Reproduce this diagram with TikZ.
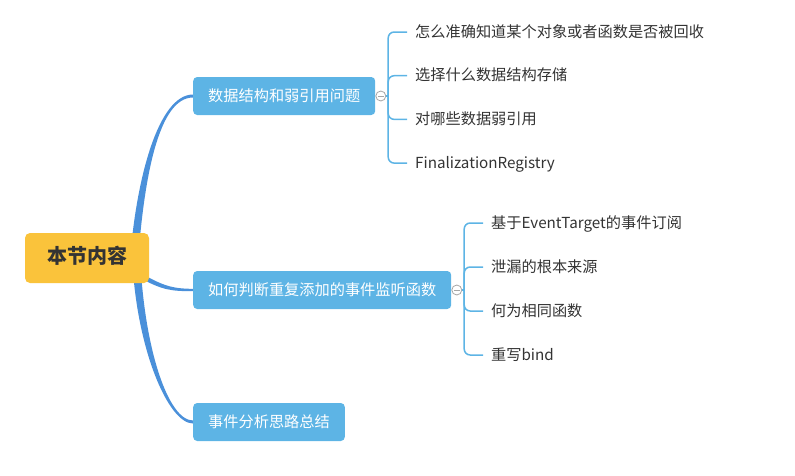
\documentclass[tikz,border=0pt]{standalone}
\usepackage{fontspec}
\setmainfont{Noto Sans CJK SC}
\usetikzlibrary{positioning, backgrounds}
\definecolor{rootyellow}{HTML}{FAC33B}
\definecolor{branchblue}{HTML}{5DB4E5}
\definecolor{trunkblue}{HTML}{4A90DA}
\definecolor{textgray}{HTML}{333333}

\begin{document}
\begin{tikzpicture}[
    x=1pt, y=-1pt,
    root/.style={rectangle, rounded corners=5pt, fill=rootyellow, text=textgray, minimum width=124pt, minimum height=50pt, font=\fontsize{20pt}{24pt}\selectfont\bfseries, text height=1.1em, text depth=0.1em},
    branch/.style={rectangle, rounded corners=4pt, fill=branchblue, text=white, minimum height=38pt, inner xsep=15pt, font=\fontsize{15.2pt}{18pt}\selectfont, text height=1.1em, text depth=0.1em, anchor=west},
    hub/.style={circle, draw=gray!70, fill=white, line width=0.8pt, minimum size=10pt, inner sep=0pt,
        path picture={\draw[gray!70, line width=0.8pt] ([xshift=2pt]path picture bounding box.west) -- ([xshift=-2pt]path picture bounding box.east);}},
    leaf/.style={rectangle, inner xsep=8pt, inner ysep=0pt, text=textgray, font=\fontsize{15.2pt}{18pt}\selectfont, text height=1.1em, text depth=0.1em, anchor=west},
    trunk/.style={fill=trunkblue},
    twig/.style={draw=branchblue, line width=1.5pt, rounded corners=6pt}
]
    \useasboundingbox (0,0) rectangle (795,475);

    \node[root] (root) at (87,258) {本节内容};

    \node[branch] (b1) at (193,96)  {数据结构和弱引用问题};
    \node[branch] (b2) at (193,290) {如何判断重复添加的事件监听函数};
    \node[branch] (b3) at (193,422) {事件分析思路总结};

    \node[hub, right=0pt of b1] (h1) {};
    \node[hub, right=0pt of b2] (h2) {};

    % first group
    \node[leaf] (l11) at (407,32) {怎么准确知道某个对象或者函数是否被回收};
    \node[leaf, below=43.7pt of l11.west, anchor=west] (l12) {选择什么数据结构存储};
    \node[leaf, below=43.7pt of l12.west, anchor=west] (l13) {对哪些数据弱引用};
    \node[leaf, below=43.7pt of l13.west, anchor=west] (l14) {FinalizationRegistry};

    % second group
    \node[leaf] (l21) at (483,223) {基于EventTarget的事件订阅};
    \node[leaf, below=44pt of l21.west, anchor=west] (l22) {泄漏的根本来源};
    \node[leaf, below=44pt of l22.west, anchor=west] (l23) {何为相同函数};
    \node[leaf, below=44pt of l23.west, anchor=west] (l24) {重写bind};

    \begin{scope}[on background layer]
        \fill[trunk] ([xshift=-19pt]root.east) .. controls +(6,-78) and +(-35,0) .. ([yshift=1.5pt]b1.west)
            -- ([yshift=-1.5pt]b1.west) .. controls +(-35,0) and +(6,-78) .. ([xshift=-11pt]root.east) -- cycle;
        \fill[trunk] ([xshift=-9pt,yshift=-15pt]root.east) .. controls +(22,12) and +(-22,0) .. ([yshift=1.2pt]b2.west)
            -- ([yshift=-1.2pt]b2.west) .. controls +(-22,0) and +(22,12) .. ([xshift=-9pt,yshift=-20pt]root.east) -- cycle;
        \fill[trunk] ([xshift=-17pt]root.east) .. controls +(4,90) and +(-25,0) .. ([yshift=-1.5pt]b3.west)
            -- ([yshift=1.5pt]b3.west) .. controls +(-25,0) and +(4,90) .. ([xshift=-9pt]root.east) -- cycle;
    \end{scope}

    \draw[twig] (h1.east) -- ++(2pt,0);
    \foreach \l in {l11,l12,l13,l14}
        \draw[twig] ([xshift=2pt]h1.east) |- (\l.west);
    \draw[twig] (h2.east) -- ++(2pt,0);
    \foreach \l in {l21,l22,l23,l24}
        \draw[twig] ([xshift=2pt]h2.east) |- (\l.west);
\end{tikzpicture}
\end{document}
